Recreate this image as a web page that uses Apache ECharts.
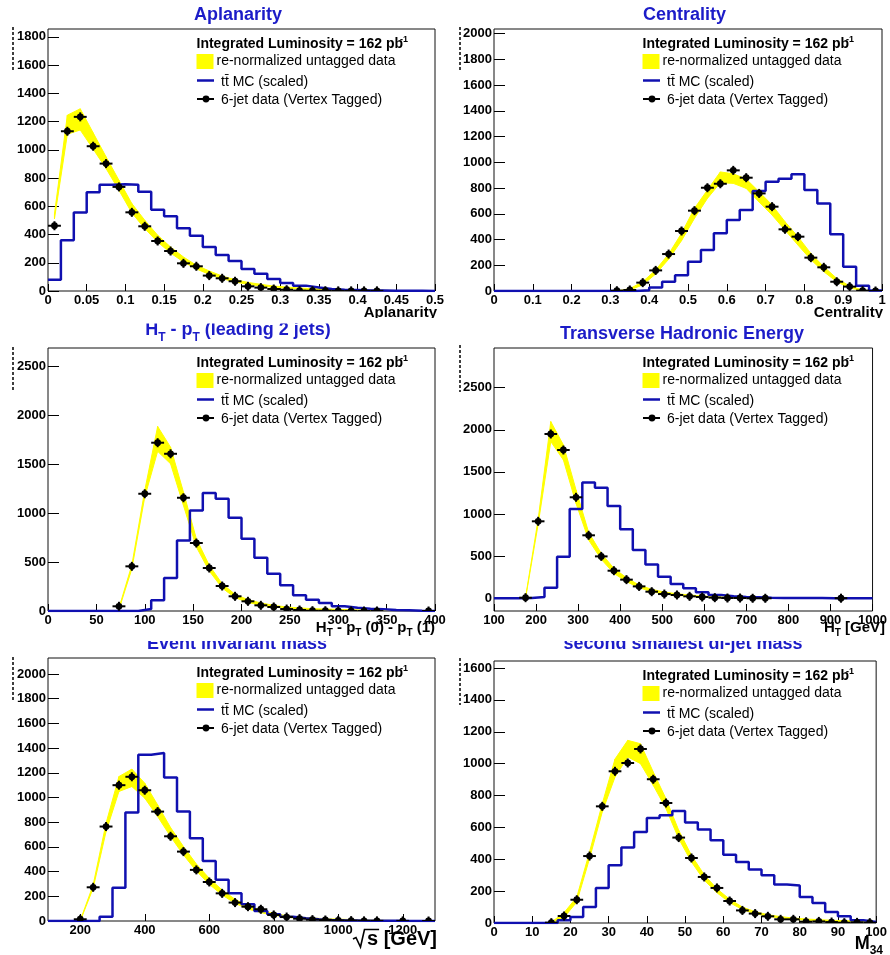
<!DOCTYPE html>
<html>
<head>
<meta charset="utf-8">
<script src="https://cdn.jsdelivr.net/npm/echarts@6/dist/echarts.min.js"></script>
<style>
  html, body { margin: 0; padding: 0; background: #fff; }
  #chart { width: 890px; height: 955px; }
</style>
</head>
<body>
<div id="chart"></div>
<script>
// ---------------------------------------------------------------
// Histogram contents, 30 bins per variable.
// mc   : ttbar MC (scaled), one value per bin
// data : 6-jet vertex-tagged data, one value per bin (null = no marker)
// lo/hi: re-normalized untagged data band, lower / upper edge per bin
// ---------------------------------------------------------------

// Aplanarity, 0 .. 0.5
const aplanarityBins = { lo: 0, width: 0.5 / 30 };
const aplanarityMC = [80, 360, 555, 700, 752, 755, 752, 702, 576, 529, 444, 392, 312, 255, 213, 156, 123, 85, 57, 38, 24, 14, 9, 7, 4, 3, 2, 1, 1, 0];
const aplanarityData = [462, 1131, 1233, 1025, 902, 737, 557, 458, 354, 283, 196, 175, 109, 90, 69, 33, 24, 14, 9, 3, 2, 2, 1, 1, 1, 1, null, null, null, null];
const aplanarityBandLo = [510, 1110, 1140, 1005, 867, 713, 553, 442, 347, 269, 206, 156, 118, 87, 64, 47, 35, 26, 19, 14, 9, 7, 5, 5, 2, 2, 1, 1, 0, 0];
const aplanarityBandHi = [545, 1245, 1290, 1120, 950, 784, 619, 501, 395, 312, 241, 182, 142, 106, 80, 61, 47, 35, 28, 21, 17, 14, 12, 9, 7, 5, 4, 3, 2, 2];
const aplanarityXTicks = [0, 0.05, 0.1, 0.15, 0.2, 0.25, 0.3, 0.35, 0.4, 0.45, 0.5];
const aplanarityYTicks = [0, 200, 400, 600, 800, 1000, 1200, 1400, 1600, 1800];

// Centrality, 0 .. 1
const centralityBins = { lo: 0, width: 1 / 30 };
const centralityMC = [0, 0, 0, 0, 0, 0, 0, 0, 0, 0, 0, 5, 28, 72, 122, 228, 318, 448, 551, 629, 776, 849, 872, 906, 784, 680, 440, 189, 41, 3];
const centralityData = [null, null, null, null, null, null, null, null, null, 2, 8, 65, 160, 287, 466, 624, 802, 833, 937, 880, 758, 655, 479, 422, 259, 184, 72, 34, 3, 0];
const centralityBandLo = [null, null, null, null, null, null, null, null, null, 0, 8, 47, 132, 246, 391, 564, 719, 841, 836, 797, 691, 590, 473, 357, 243, 150, 72, 23, 3, 0];
const centralityBandHi = [null, null, null, null, null, null, null, null, null, 2, 18, 72, 163, 287, 448, 642, 784, 925, 910, 870, 771, 668, 538, 422, 292, 189, 98, 39, 8, 1];
const centralityXTicks = [0, 0.1, 0.2, 0.3, 0.4, 0.5, 0.6, 0.7, 0.8, 0.9, 1];
const centralityYTicks = [0, 200, 400, 600, 800, 1000, 1200, 1400, 1600, 1800, 2000];

// H_T - p_T (leading 2 jets), 0 .. 400
const htptBins = { lo: 0, width: 400 / 30 };
const htptMC = [0, 0, 0, 0, 0, 0, 0, 20, 109, 337, 721, 1027, 1204, 1146, 952, 738, 544, 381, 262, 160, 116, 82, 48, 34, 24, 17, 10, 7, 3, 1];
const htptData = [null, null, null, null, null, 48, 456, 1197, 1718, 1605, 1156, 694, 439, 255, 150, 99, 58, 41, 20, 10, 3, 3, 1, 1, 0, 0, null, null, null, 0];
const htptBandLo = [null, null, null, null, null, 15, 430, 1163, 1630, 1503, 1078, 653, 408, 235, 136, 88, 58, 41, 27, 20, 14, 10, 8, 6, 4, 3, 2, 2, 1, 1];
const htptBandHi = [null, null, null, null, null, 30, 470, 1231, 1884, 1673, 1214, 738, 466, 279, 170, 116, 82, 58, 41, 31, 24, 20, 16, 13, 10, 8, 6, 5, 4, 3];
const htptXTicks = [0, 50, 100, 150, 200, 250, 300, 350, 400];
const htptYTicks = [0, 500, 1000, 1500, 2000, 2500];

// Transverse hadronic energy H_T, 100 .. 1000 GeV
const htBins = { lo: 100, width: 30 };
const htMC = [0, 0, 4, 16, 127, 494, 1060, 1373, 1313, 1096, 819, 574, 403, 257, 170, 119, 71, 40, 24, 16, 12, 8, 5, 4, 3, 3, 2, 2, 1, 1];
const htData = [null, null, 8, 914, 1950, 1760, 1199, 748, 498, 328, 222, 142, 79, 51, 40, 24, 16, 8, 4, 4, 1, 1, null, null, null, null, null, 2, null, null];
const htBandLo = [null, null, 0, 880, 1860, 1642, 1127, 692, 463, 297, 198, 127, 79, 51, 36, 24, 16, 8, 4, 4, 3, 2, 2, 1, 1, 1, 1, 0, 0, 0];
const htBandHi = [null, null, 10, 940, 2097, 1820, 1286, 783, 534, 356, 245, 158, 107, 75, 55, 40, 28, 20, 16, 12, 10, 8, 7, 6, 5, 4, 4, 3, 3, 2];
const htXTicks = [100, 200, 300, 400, 500, 600, 700, 800, 900, 1000];
const htYTicks = [0, 500, 1000, 1500, 2000, 2500];

// Event invariant mass sqrt(s), 100 .. 1300 GeV
const sqrtsBins = { lo: 100, width: 40 };
const sqrtsMC = [0, 0, 0, 0, 35, 270, 878, 1346, 1360, 1162, 886, 670, 486, 335, 224, 135, 81, 54, 35, 22, 14, 8, 5, 4, 3, 2, 2, 1, 1, 1];
const sqrtsData = [null, null, 14, 273, 765, 1100, 1168, 1059, 886, 686, 562, 414, 316, 224, 149, 116, 95, 49, 32, 19, 11, 8, 5, 3, 1, 1, null, 1, null, 0];
const sqrtsBandLo = [null, null, 0, 265, 724, 1049, 1089, 995, 846, 684, 535, 405, 297, 211, 143, 97, 68, 46, 30, 22, 14, 10, 7, 5, 3, 2, 1, 1, 0, 0];
const sqrtsBandHi = [null, null, 5, 292, 792, 1170, 1230, 1116, 940, 757, 603, 462, 346, 251, 176, 124, 86, 62, 43, 32, 24, 19, 15, 12, 9, 7, 5, 4, 3, 2];
const sqrtsXTicks = [200, 400, 600, 800, 1000, 1200];
const sqrtsYTicks = [0, 200, 400, 600, 800, 1000, 1200, 1400, 1600, 1800, 2000];

// Second smallest di-jet mass M_34, 0 .. 100
const m34Bins = { lo: 0, width: 100 / 30 };
const m34MC = [0, 0, 0, 0, 0, 17, 38, 100, 220, 362, 473, 571, 659, 676, 703, 630, 586, 519, 429, 383, 335, 299, 241, 236, 163, 126, 69, 42, 17, 6];
const m34Data = [null, null, null, null, 2, 44, 146, 420, 732, 952, 1004, 1092, 902, 753, 536, 408, 289, 220, 138, 79, 59, 42, 23, 23, 8, 10, 6, 2, 4, 2];
const m34BandLo = [null, null, null, null, 0, 35, 132, 404, 697, 916, 1042, 1000, 864, 718, 529, 383, 268, 190, 128, 84, 59, 42, 31, 23, 17, 13, 10, 8, 6, 4];
const m34BandHi = [null, null, null, null, 5, 65, 163, 446, 749, 1029, 1146, 1125, 948, 780, 582, 425, 303, 215, 149, 100, 71, 52, 40, 31, 25, 21, 17, 15, 13, 10];
const m34XTicks = [0, 10, 20, 30, 40, 50, 60, 70, 80, 90, 100];
const m34YTicks = [0, 200, 400, 600, 800, 1000, 1200, 1400, 1600];

// ---------------------------------------------------------------
// Styling and frame placement
// ---------------------------------------------------------------
const FONT = '"Liberation Sans", Arial, Helvetica, sans-serif';
const MC_BLUE = '#1010b0';
const TITLE_BLUE = '#1c1cc8';
const BAND_YELLOW = '#ffff00';

const panels = [
  { frame: { left: 48, top: 29, width: 387, height: 262 }, xr: [0, 0.5], yr: [0, 1855],
    bins: aplanarityBins, mc: aplanarityMC, data: aplanarityData, lo: aplanarityBandLo, hi: aplanarityBandHi,
    xTicks: aplanarityXTicks, yTicks: aplanarityYTicks },
  { frame: { left: 494, top: 29, width: 388, height: 262 }, xr: [0, 1], yr: [0, 2035],
    bins: centralityBins, mc: centralityMC, data: centralityData, lo: centralityBandLo, hi: centralityBandHi,
    xTicks: centralityXTicks, yTicks: centralityYTicks },
  { frame: { left: 48, top: 348, width: 387, height: 263 }, xr: [0, 400], yr: [0, 2685],
    bins: htptBins, mc: htptMC, data: htptData, lo: htptBandLo, hi: htptBandHi,
    xTicks: htptXTicks, yTicks: htptYTicks },
  { frame: { left: 494, top: 348, width: 388, height: 263 }, xr: [100, 1000], yr: [-150, 2970],
    bins: htBins, mc: htMC, data: htData, lo: htBandLo, hi: htBandHi,
    xTicks: htXTicks, yTicks: htYTicks },
  { frame: { left: 48, top: 658, width: 387, height: 263 }, xr: [100, 1300], yr: [0, 2130],
    bins: sqrtsBins, mc: sqrtsMC, data: sqrtsData, lo: sqrtsBandLo, hi: sqrtsBandHi,
    xTicks: sqrtsXTicks, yTicks: sqrtsYTicks },
  { frame: { left: 494, top: 661, width: 388, height: 262 }, xr: [0, 100], yr: [0, 1644],
    bins: m34Bins, mc: m34MC, data: m34Data, lo: m34BandLo, hi: m34BandHi,
    xTicks: m34XTicks, yTicks: m34YTicks }
];

// Band segment between two neighbouring bin centres: [x0, lo0, hi0, x1, lo1, hi1]
function bandRenderer(params, api) {
  const a0 = api.coord([api.value(0), api.value(1)]);
  const b0 = api.coord([api.value(0), api.value(2)]);
  const a1 = api.coord([api.value(3), api.value(4)]);
  const b1 = api.coord([api.value(3), api.value(5)]);
  return {
    type: 'polygon',
    shape: { points: [a0, a1, b1, b0] },
    style: { fill: BAND_YELLOW, stroke: BAND_YELLOW, lineWidth: 1 }
  };
}

// Data marker: dot with a horizontal bar spanning the bin and a short vertical bar
function markerRenderer(halfWidth) {
  return function (params, api) {
    const x = api.value(0), y = api.value(1);
    const c = api.coord([x, y]);
    const l = api.coord([x - halfWidth, y]);
    const r = api.coord([x + halfWidth, y]);
    return {
      type: 'group',
      children: [
        { type: 'line', shape: { x1: l[0], y1: c[1], x2: r[0], y2: c[1] }, style: { stroke: '#000', lineWidth: 2 } },
        { type: 'line', shape: { x1: c[0], y1: c[1] - 4.5, x2: c[0], y2: c[1] + 4.5 }, style: { stroke: '#000', lineWidth: 2 } },
        { type: 'circle', shape: { cx: c[0], cy: c[1], r: 3.4 }, style: { fill: '#000' } }
      ]
    };
  };
}

const labelFmt = v => String(+(+v).toFixed(4));

const grids = [], xAxes = [], yAxes = [], series = [];

panels.forEach((p, i) => {
  const n = p.mc.length;
  const edges = [];
  for (let k = 0; k <= n; k++) edges.push(p.bins.lo + k * p.bins.width);
  const centres = p.mc.map((_, k) => p.bins.lo + (k + 0.5) * p.bins.width);

  grids.push(Object.assign({ show: true, borderColor: '#111', borderWidth: 1, backgroundColor: 'transparent', containLabel: false }, p.frame));

  xAxes.push({
    type: 'value', gridIndex: i, min: p.xr[0], max: p.xr[1],
    axisLine: { show: false, onZero: false },
    splitLine: { show: false },
    axisTick: { show: true, inside: true, length: 7, customValues: p.xTicks, lineStyle: { color: '#000', width: 1 } },
    axisLabel: { customValues: p.xTicks, margin: 3, color: '#000', fontFamily: FONT, fontWeight: 'bold', fontSize: 13, formatter: labelFmt }
  });
  yAxes.push({
    type: 'value', gridIndex: i, min: p.yr[0], max: p.yr[1],
    axisLine: { show: false, onZero: false },
    splitLine: { show: false },
    axisTick: { show: true, inside: true, length: 11, customValues: p.yTicks, lineStyle: { color: '#000', width: 1 } },
    axisLabel: { customValues: p.yTicks, margin: 2, color: '#000', fontFamily: FONT, fontWeight: 'bold', fontSize: 13, formatter: labelFmt }
  });

  // yellow band, one quadrilateral per pair of neighbouring bins
  const segs = [];
  for (let k = 0; k < n - 1; k++) {
    if (p.lo[k] == null || p.lo[k + 1] == null) continue;
    segs.push([centres[k], p.lo[k], p.hi[k], centres[k + 1], p.lo[k + 1], p.hi[k + 1]]);
  }
  series.push({
    type: 'custom', xAxisIndex: i, yAxisIndex: i, silent: true, z: 1, clip: true,
    encode: { x: [0, 3], y: [1, 2, 4, 5] },
    renderItem: bandRenderer,
    data: segs
  });

  // ttbar MC as a step histogram
  const steps = p.mc.map((v, k) => [edges[k], v]);
  steps.push([edges[n], p.mc[n - 1]]);
  series.push({
    type: 'line', xAxisIndex: i, yAxisIndex: i, step: 'end', symbol: 'none', silent: true, z: 2,
    lineStyle: { color: MC_BLUE, width: 2.5 },
    data: steps
  });

  // tagged data markers
  series.push({
    type: 'custom', xAxisIndex: i, yAxisIndex: i, silent: true, z: 3, clip: true,
    renderItem: markerRenderer(p.bins.width / 2),
    data: centres.map((x, k) => [x, p.data[k]]).filter(d => d[1] != null)
  });
});

// ---------------------------------------------------------------
// Text, legends and decorations
// ---------------------------------------------------------------
const measureCtx = document.createElement('canvas').getContext('2d');
function fontStr(weight, size) { return weight + ' ' + size + 'px ' + FONT; }

// Text laid out piece by piece on a common baseline; kind 1 = subscript, 2 = superscript
function composed(x, baseline, pieces, opts) {
  const size = opts.size, weight = opts.weight || 'bold', color = opts.color || '#000', z = opts.z || 20;
  const small = Math.round(size * 0.66);
  const widths = pieces.map(pc => {
    measureCtx.font = fontStr(weight, pc[1] ? small : size);
    return measureCtx.measureText(pc[0]).width;
  });
  const total = widths.reduce((a, b) => a + b, 0);
  let cx = opts.align === 'center' ? x - total / 2 : opts.align === 'right' ? x - total : x;
  const out = [];
  pieces.forEach((pc, i) => {
    const s = pc[1] ? small : size;
    const base = baseline + (pc[1] === 1 ? size * 0.28 : pc[1] === 2 ? -size * 0.42 : 0);
    out.push({
      type: 'text', x: cx, y: base - 0.3465 * s, z: z, silent: true,
      style: { text: pc[0], font: fontStr(weight, s), fill: color, textAlign: 'left', align: 'left', textVerticalAlign: 'middle', verticalAlign: 'middle' }
    });
    cx += widths[i] + (pc[2] || 0);
  });
  out.startX = opts.align === 'right' ? x - total : (opts.align === 'center' ? x - total / 2 : x);
  return out;
}

function rect(x, y, w, h, fill, z) {
  return { type: 'rect', z: z, silent: true, shape: { x: x, y: y, width: w, height: h }, style: { fill: fill } };
}
function line(x1, y1, x2, y2, stroke, w, z, dash) {
  const style = { stroke: stroke, lineWidth: w };
  if (dash) style.lineDash = dash;
  return { type: 'line', z: z || 20, silent: true, shape: { x1: x1, y1: y1, x2: x2, y2: y2 }, style: style };
}

function legendBlock(L, T) {
  return [].concat(
    composed(L + 148.5, T + 19.5, [['Integrated Luminosity = 162 pb', 0, -3], ['-1', 2]], { size: 14 }),
    [rect(L + 148.5, T + 25, 17, 15, BAND_YELLOW, 20)],
    composed(L + 168.5, T + 36.5, [['re-normalized untagged data', 0]], { size: 14, weight: 'normal' }),
    [line(L + 149, T + 51.5, L + 166, T + 51.5, MC_BLUE, 2.5)],
    composed(L + 173, T + 58, [['tt\u0304 MC (scaled)', 0]], { size: 14, weight: 'normal' }),
    [line(L + 149, T + 70, L + 166, T + 70, '#000', 2),
     { type: 'circle', z: 21, silent: true, shape: { cx: L + 158, cy: T + 70, r: 3.4 }, style: { fill: '#000' } }],
    composed(L + 173, T + 75.5, [['6-jet data (Vertex Tagged)', 0]], { size: 14, weight: 'normal' })
  );
}

const graphics = [];
panels.forEach(p => graphics.push(...legendBlock(p.frame.left, p.frame.top)));

// panel titles
const T18 = { size: 18, color: TITLE_BLUE, align: 'center', z: 10 };
graphics.push(...composed(238, 21, [['Aplanarity', 0]], T18));
graphics.push(...composed(684.5, 21, [['Centrality', 0]], T18));
graphics.push(...composed(238, 336.5, [['H', 0], ['T', 1], [' - p', 0], ['T', 1], [' (leading 2 jets)', 0]], T18));
graphics.push(...composed(682, 340, [['Transverse Hadronic Energy', 0]], T18));
graphics.push(...composed(237, 650, [['Event invariant mass', 0]], T18));
graphics.push(...composed(683, 650.5, [['second smallest di-jet mass', 0]], T18));

// paper edges hiding the tops of the lower titles
graphics.push(rect(135, 306, 210, 17.5, '#fff', 11));
graphics.push(rect(135, 626, 195, 15, '#fff', 11));
graphics.push(rect(550, 626, 268, 15, '#fff', 11));

// axis titles
const N15 = { size: 15, align: 'right', z: 12 };
graphics.push(...composed(437, 318.5, [['Aplanarity', 0]], N15));
graphics.push(...composed(883, 318.5, [['Centrality', 0]], N15));
graphics.push(rect(355, 318, 90, 12, '#fff', 13));
graphics.push(rect(800, 318, 90, 8, '#fff', 13));
graphics.push(...composed(435, 633, [['H', 0], ['T', 1], [' - p', 0], ['T', 1], [' (0) - p', 0], ['T', 1], [' (1)', 0]], N15));
graphics.push(...composed(885, 633, [['H', 0], ['T', 1], [' [GeV]', 0]], N15));
const sqrtLabel = composed(437, 946, [['s [GeV]', 0]], { size: 20, align: 'right', z: 12 });
graphics.push(...sqrtLabel);
const sx = sqrtLabel.startX;
measureCtx.font = fontStr('bold', 20);
const sw = measureCtx.measureText('s').width;
graphics.push({ type: 'polyline', z: 12, silent: true,
  shape: { points: [[sx - 14, 939], [sx - 11, 937.5], [sx - 6.5, 947], [sx - 2.5, 929.5], [sx + sw + 1, 929.5]] },
  style: { stroke: '#000', lineWidth: 1.6, fill: null } });
graphics.push(...composed(883, 950, [['M', 0], ['34', 1]], { size: 18, align: 'right', z: 12 }));

// dashed marks left of each frame
[[13, 27, 72], [460, 27, 72], [13, 347, 392], [460, 345, 392], [13, 657, 702], [460, 658, 705]].forEach(d => {
  graphics.push(line(d[0], d[1], d[0], d[2], '#000', 1.5, 12, [3, 2]));
});

const chart = echarts.init(document.getElementById('chart'), null, { renderer: 'canvas', width: 890, height: 955 });
chart.setOption({
  animation: false,
  backgroundColor: '#fff',
  grid: grids,
  xAxis: xAxes,
  yAxis: yAxes,
  series: series,
  graphic: { elements: graphics }
});
</script>
</body>
</html>
